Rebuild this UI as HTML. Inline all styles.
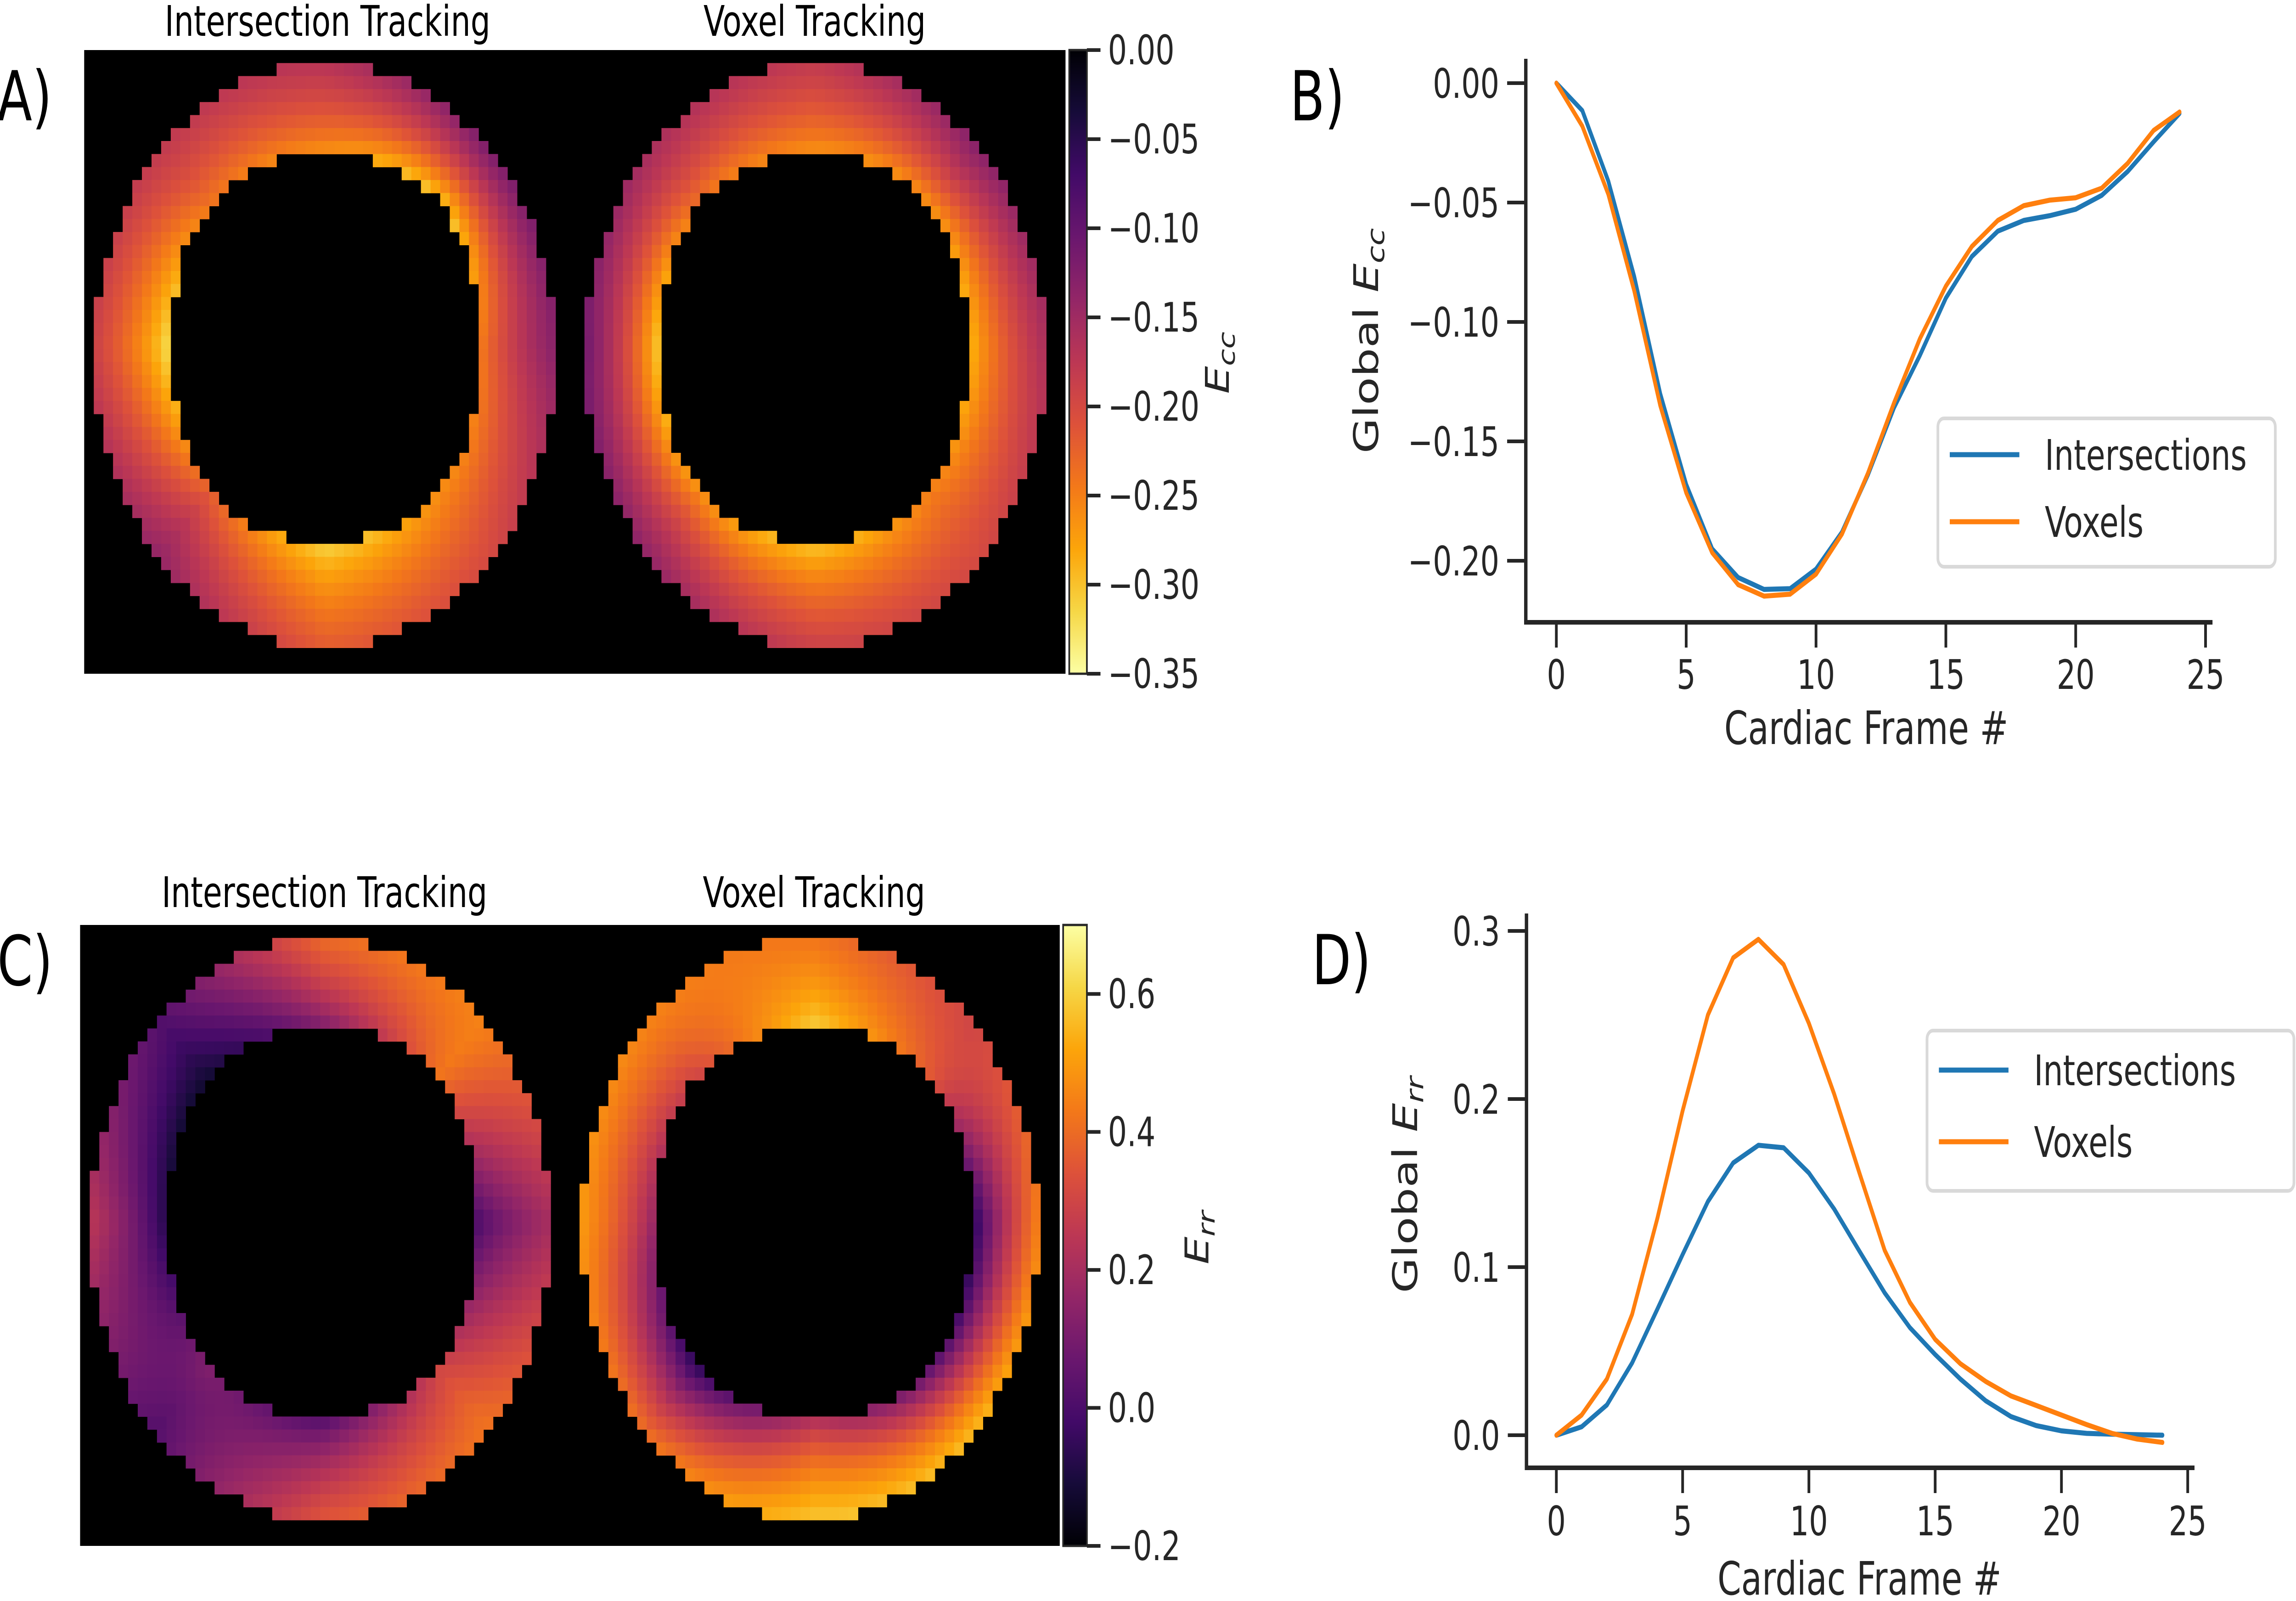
<!DOCTYPE html>
<html><head><meta charset="utf-8"><style>
html,body{margin:0;padding:0;background:#fff;overflow:hidden;width:100vw;height:100vh;}
svg{display:block;width:100vw;height:100vh;font-family:"DejaVu Sans","Liberation Sans",sans-serif;}
</style></head><body>
<svg id="fig" xmlns="http://www.w3.org/2000/svg" viewBox="0 0 6764 3486" preserveAspectRatio="none">
<defs>
<linearGradient id="infDown" x1="0" y1="0" x2="0" y2="1"></linearGradient>
<linearGradient id="infUp" x1="0" y1="1" x2="0" y2="0"></linearGradient>
</defs>
<g id="panelA"></g>
<g id="panelB"></g>
<g id="panelC"></g>
<g id="panelD"></g>
</svg>
<script>
// ---- line chart data ----
const frames = [0,1,2,3,4,5,6,7,8,9,10,11,12,13,14,15,16,17,18,19,20,21,22,23,24];
const eccIntersections = [0,-0.0115,-0.041,-0.081,-0.13,-0.168,-0.195,-0.207,-0.212,-0.2117,-0.2035,-0.188,-0.164,-0.136,-0.114,-0.090,-0.0726,-0.062,-0.0575,-0.0555,-0.0528,-0.047,-0.037,-0.0246,-0.0127];
const eccVoxels = [0,-0.018,-0.0465,-0.087,-0.135,-0.1715,-0.1966,-0.21,-0.2148,-0.214,-0.2056,-0.1888,-0.1633,-0.134,-0.107,-0.085,-0.0684,-0.0575,-0.0513,-0.049,-0.048,-0.044,-0.0336,-0.0198,-0.0121];
const errIntersections = [0,0.005,0.018,0.043,0.075,0.1075,0.139,0.162,0.1725,0.171,0.156,0.1346,0.1095,0.0847,0.064,0.048,0.0334,0.0205,0.0111,0.0057,0.0026,0.0011,0.0006,0.0003,0];
const errVoxels = [0,0.012,0.0334,0.0719,0.129,0.193,0.25,0.284,0.295,0.28,0.245,0.203,0.156,0.110,0.079,0.057,0.0425,0.032,0.0234,0.0177,0.012,0.0063,0.0011,-0.0023,-0.0043];
const xTicks = [0,5,10,15,20,25];
const eccTicks = [0,-0.05,-0.10,-0.15,-0.20];
const eccTickLabels = ["0.00","\u22120.05","\u22120.10","\u22120.15","\u22120.20"];
const errTicks = [0,0.1,0.2,0.3];
const errTickLabels = ["0.0","0.1","0.2","0.3"];
const eccCbarTicks = [0,-0.05,-0.10,-0.15,-0.20,-0.25,-0.30,-0.35];
const eccCbarLabels = ["0.00","\u22120.05","\u22120.10","\u22120.15","\u22120.20","\u22120.25","\u22120.30","\u22120.35"];
const errCbarTicks = [0.6,0.4,0.2,0.0,-0.2];
const errCbarLabels = ["0.6","0.4","0.2","0.0","\u22120.2"];
// ---- heatmap ring values, sampled every 45deg (0=right, clockwise) ----
const ringAngles = [0,45,90,135,180,225,270,315];
const eccLeftOuter = [-0.13,-0.20,-0.22,-0.14,-0.19,-0.18,-0.17,-0.12];
const eccLeftInner = [-0.25,-0.26,-0.32,-0.22,-0.33,-0.24,-0.27,-0.31];
const eccRightOuter = [-0.16,-0.20,-0.19,-0.14,-0.11,-0.16,-0.18,-0.13];
const eccRightInner = [-0.30,-0.25,-0.31,-0.26,-0.32,-0.24,-0.27,-0.26];
const errLeftOuter = [0.20,0.42,0.35,0.02,0.25,0.02,0.40,0.45];
const errLeftInner = [0.00,0.30,0.00,0.12,-0.10,-0.12,0.10,0.42];
const errRightOuter = [0.45,0.55,0.58,0.40,0.50,0.45,0.42,0.30];
const errRightInner = [-0.10,0.05,0.20,-0.05,0.15,0.30,0.60,0.35];

const NS = "http://www.w3.org/2000/svg";
function mk(tag, attrs, parent){const e=document.createElementNS(NS,tag);for(const k in attrs)e.setAttribute(k,attrs[k]);parent.appendChild(e);return e;}
function txt(parent, s, x, y, size, anchor, extra){const t=mk("text",Object.assign({x:x,y:y,"font-size":size,"text-anchor":anchor||"start",fill:"#262626"},extra||{}),parent);t.textContent=s;return t;}

const INF=[[0,0,0,4],[0.1,22,11,57],[0.2,66,10,104],[0.3,106,23,110],[0.4,147,38,103],[0.5,188,55,84],[0.6,221,81,58],[0.7,243,120,25],[0.8,252,165,10],[0.9,246,215,70],[1,252,255,164]];
function inferno(t){t=Math.max(0,Math.min(1,t));for(let i=1;i<INF.length;i++){if(t<=INF[i][0]){const a=INF[i-1],b=INF[i],f=(t-a[0])/(b[0]-a[0]);return "rgb("+[1,2,3].map(j=>Math.round(a[j]+(b[j]-a[j])*f)).join(",")+")";}}return "rgb(252,255,164)";}
["infDown","infUp"].forEach(id=>{const g=document.getElementById(id);for(let i=0;i<=20;i++){mk("stop",{offset:(i/20),"stop-color":inferno(i/20)},g);}});

function interpAngle(arr, deg){const step=360/arr.length;const p=((deg%360)+360)%360/step;const i=Math.floor(p)%arr.length,j=(i+1)%arr.length,f=p-Math.floor(p);return arr[i]*(1-f)+arr[j]*f;}
function supR(dx,dy,p){return Math.pow(Math.pow(Math.abs(dx),p)+Math.pow(Math.abs(dy),p),1/p);}

function drawHeat(g, ox, oy, w, h, rings, norm){
  const bg=mk("rect",{x:ox,y:oy,width:w,height:h,fill:"#000"},g);
  
  
  const cs=28.3, cols=Math.round(w/cs), rows=Math.round(h/cs), cw=w/cols, ch=h/rows;
  rings.forEach(r=>{
    const rg=mk("g",{},g);
    
    
    for(let i=0;i<cols;i++)for(let j=0;j<rows;j++){
      const x=ox+(i+0.5)*cw,y=oy+(j+0.5)*ch;
      const dout=Math.hypot((x-r.ocx)/r.orx,(y-r.ocy)/r.ory);
      const din=supR((x-r.icx)/r.irx,(y-r.icy)/r.iry,2.4);
      if(dout>1||din<=1)continue;
      const f=Math.min(1,Math.max(0,(din-1)/((din-1)+(1-dout))));
      const ang=Math.atan2((y-r.icy)/r.iry,(x-r.icx)/r.irx)*180/Math.PI;
      const vi=interpAngle(r.inner,ang),vo=interpAngle(r.outer,ang);
      const v=vi*(1-f)+vo*f;
      mk("rect",{x:(ox+i*cw).toFixed(1),y:(oy+j*ch).toFixed(1),width:(cw+0.6).toFixed(1),height:(ch+0.6).toFixed(1),fill:inferno(norm(v))},rg);
    }
  });
}

function drawCbar(g, x, y, w, h, grad, ticks, labels, yOf, label, sub){
  const cb=mk("rect",{x:x,y:y,width:w,height:h,fill:"url(#"+grad+")",stroke:"#262626","stroke-width":5},g);
  
  
  ticks.forEach((v,i)=>{const ty=yOf(v);
    mk("line",{x1:x+w,x2:x+w+40,y1:ty,y2:ty,stroke:"#262626","stroke-width":8},g);
    const t=txt(g,labels[i],x+w+62,ty+31,88,"start");
    
    
  });
  const lx=label.x, ly=label.y;
  const t=mk("text",{x:0,y:0,"font-size":96,"text-anchor":"middle",fill:"#262626",transform:"translate("+lx+","+ly+") rotate(-90)"},g);
  
  
  const e=mk("tspan",{"font-style":"italic"},t);e.textContent="E";
  const s=mk("tspan",{"font-style":"italic","font-size":68,dy:18},t);s.textContent=sub;
}

function panelLetter(g,s,x,y){const t=txt(g,s,x,y,150,"start",{fill:"#000"});}
function title(g,s,cx,y){const t=txt(g,s,cx,y,92,"middle",{fill:"#000"});}

// ---- Panel A ----
const A=document.getElementById("panelA");
panelLetter(A,"A)",-8,262);
title(A,"Intersection Tracking",965,78);
title(A,"Voxel Tracking",2400,78);
drawHeat(A,248,109,2891,1358,[
 {name:"ecc-intersection-ring",ocx:957,ocy:772,orx:679,ory:636,icx:958,icy:758,irx:451,iry:418,inner:eccLeftInner,outer:eccLeftOuter},
 {name:"ecc-voxel-ring",ocx:2402,ocy:772,orx:679,ory:636,icx:2400,icy:758,irx:449,iry:418,inner:eccRightInner,outer:eccRightOuter}
],v=>-v/0.35);
drawCbar(A,3150,109,52,1358,"infDown",eccCbarTicks,eccCbarLabels,v=>109+(-v)/0.35*1358,{x:3620,y:790},"cc");

// ---- Panel C ----
const C=document.getElementById("panelC");
panelLetter(C,"C)",-8,2145);
title(C,"Intersection Tracking",956,1975);
title(C,"Voxel Tracking",2398,1975);
drawHeat(C,236,2014,2886,1352,[
 {name:"err-intersection-ring",ocx:945,ocy:2675,orx:679,ory:634,icx:950,icy:2661,irx:454,iry:420,inner:errLeftInner,outer:errLeftOuter},
 {name:"err-voxel-ring",ocx:2386,ocy:2675,orx:675,ory:634,icx:2399,icy:2661,irx:464,iry:420,inner:errRightInner,outer:errRightOuter}
],v=>(v+0.2)/0.9);
drawCbar(C,3132,2014,70,1352,"infUp",errCbarTicks,errCbarLabels,v=>3366-(v+0.2)/0.9*1352,{x:3560,y:2695},"rr");

// ---- line plots ----
function linePlot(g, cfg){
  const X=v=>cfg.x0+v*cfg.xs, Y=v=>cfg.y0-v*cfg.ys;
  const sp1=mk("line",{x1:cfg.left,x2:cfg.left,y1:cfg.top,y2:cfg.bottom,stroke:"#262626","stroke-width":10},g);
  
  const sp2=mk("line",{x1:cfg.left-5,x2:cfg.right,y1:cfg.bottom,y2:cfg.bottom,stroke:"#262626","stroke-width":10},g);
  
  xTicks.forEach(v=>{mk("line",{x1:X(v),x2:X(v),y1:cfg.bottom,y2:cfg.bottom+55,stroke:"#262626","stroke-width":8},g);
    const t=txt(g,String(v),X(v),cfg.xlabY,88,"middle");});
  cfg.yt.forEach((v,i)=>{mk("line",{x1:cfg.left-55,x2:cfg.left,y1:Y(v),y2:Y(v),stroke:"#262626","stroke-width":8},g);
    const t=txt(g,cfg.ytl[i],cfg.left-78,Y(v)+32,88,"end");});
  const xl=txt(g,"Cardiac Frame #",cfg.xTitle[0],cfg.xTitle[1],100,"middle");
  
  const yl=mk("text",{x:0,y:0,"font-size":100,"text-anchor":"middle",fill:"#262626",transform:"translate("+cfg.yTitle[0]+","+cfg.yTitle[1]+") rotate(-90)"},g);
  
  const a=mk("tspan",{},yl);a.textContent="Global ";
  const b=mk("tspan",{"font-style":"italic"},yl);b.textContent="E";
  const c=mk("tspan",{"font-style":"italic","font-size":70,dy:18},yl);c.textContent=cfg.sub;
  [[cfg.s1,"#1f77b4","intersections-line"],[cfg.s2,"#ff7f0e","voxels-line"]].forEach(s=>{
    const p=mk("polyline",{points:frames.map((f,i)=>X(f).toFixed(1)+","+Y(s[0][i]).toFixed(1)).join(" "),fill:"none",stroke:s[1],"stroke-width":11,"stroke-linejoin":"round","stroke-linecap":"round"},g);
    
  });
  const L=cfg.leg;
  const lg=mk("g",{},g);
  mk("rect",{x:L.x,y:L.y,width:L.w,height:L.h,rx:18,fill:"#fff",stroke:"#d9d9d9","stroke-width":8},lg);
  [["Intersections","#1f77b4",L.l1],["Voxels","#ff7f0e",L.l2]].forEach(e=>{
    const eg=mk("g",{},lg);
    mk("line",{x1:L.x+35,x2:L.x+240,y1:e[2],y2:e[2],stroke:e[1],"stroke-width":11},eg);
    txt(eg,e[0],L.x+315,e[2]+33,92,"start");
  });
}
linePlot(document.getElementById("panelB"),{x0:4585,xs:76.5,y0:181,ys:5200,left:4495,right:6518,top:128,bottom:1355,
  yt:eccTicks,ytl:eccTickLabels,xlabY:1500,xTitle:[5498,1620],yTitle:[4060,742],sub:"cc",s1:eccIntersections,s2:eccVoxels,
  leg:{x:5709,y:911,w:994,h:323,l1:990,l2:1136}});
panelLetter(document.getElementById("panelB"),"B)",3800,262);
linePlot(document.getElementById("panelD"),{x0:4585,xs:74.4,y0:3125,ys:3660,left:4497,right:6465,top:1989,bottom:3196,
  yt:errTicks,ytl:errTickLabels,xlabY:3343,xTitle:[5478,3472],yTitle:[4175,2580],sub:"rr",s1:errIntersections,s2:errVoxels,
  leg:{x:5677,y:2244,w:1081,h:349,l1:2330,l2:2486}});
panelLetter(document.getElementById("panelD"),"D)",3865,2143);
</script>
</body></html>
